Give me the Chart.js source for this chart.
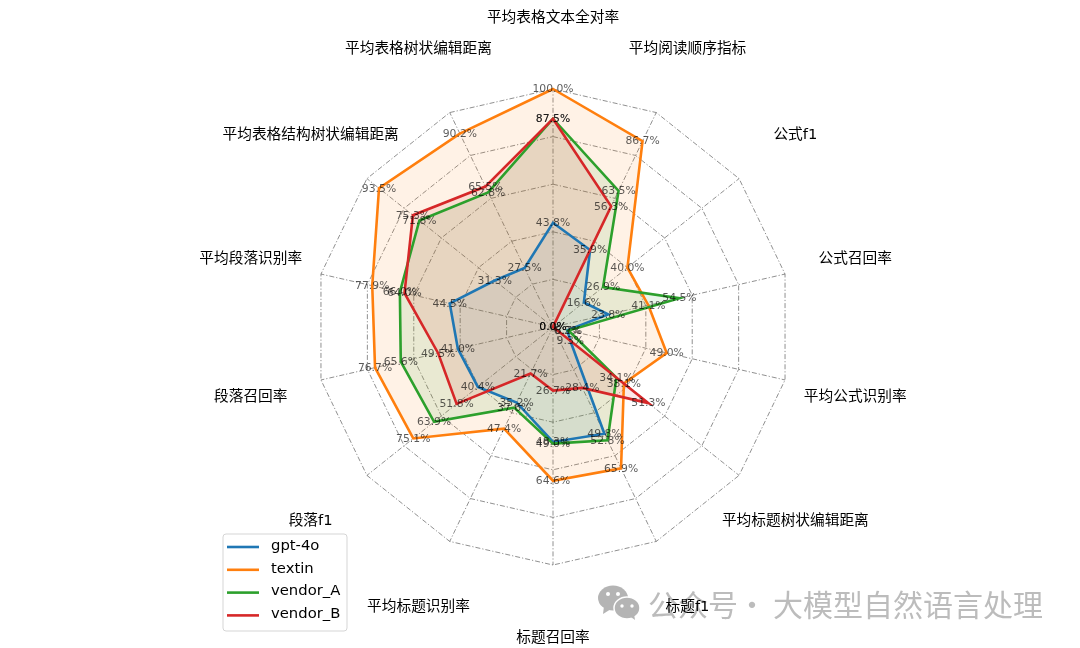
<!DOCTYPE html>
<html lang="zh">

<head>
    <meta charset="UTF-8">
    <title>雷达图</title>
    <script src="https://cdn.jsdelivr.net/npm/chart.js"></script>
    <style>
        body {
            margin: 0;
            background-color: #fff;
        }

        canvas {
            display: block;
        }
    </style>
</head>

<body>
    <canvas id="radarChart" width="1080" height="648"></canvas>

    <script>
        const categories = [
            '平均表格文本全对率', '平均阅读顺序指标', '公式f1', '公式召回率', '平均公式识别率',
            '平均标题树状编辑距离', '标题f1', '标题召回率', '平均标题识别率', '段落f1',
            '段落召回率', '平均段落识别率', '平均表格结构树状编辑距离', '平均表格树状编辑距离'
        ];

        const gpt4o = [43.8, 35.9, 16.6, 23.8, 6.2, 9.3, 49.8, 48.3, 35.2, 40.4, 41.0, 44.5, 31.3, 27.5];
        const textin = [100.0, 86.7, 40.0, 41.1, 49.0, 38.1, 65.9, 64.6, 47.4, 75.1, 76.7, 77.9, 93.5, 90.2];
        const vendorA = [87.5, 63.5, 26.9, 54.5, 6.7, 34.1, 52.8, 49.0, 37.6, 63.9, 65.6, 66.0, 71.8, 62.8];
        const vendorB = [87.5, 56.3, 0.0, 0.0, 0.0, 51.3, 28.4, 26.7, 21.7, 51.8, 49.5, 64.0, 75.3, 65.5];

        const seriesNames = ['gpt-4o', 'textin', 'vendor_A', 'vendor_B'];
        const seriesValues = [gpt4o, textin, vendorA, vendorB];
        const lineColors = ['#1f77b4', '#ff7f0e', '#2ca02c', '#d62728'];
        const fillColors = ['rgba(31,119,180,0.1)', 'rgba(255,127,14,0.1)', 'rgba(44,160,44,0.1)', 'rgba(214,39,40,0.1)'];

        const latinFont = '"DejaVu Sans", "Noto Sans CJK SC", sans-serif';
        const cjkFont = '"Noto Sans CJK SC", sans-serif';

        // 水印,画在最底层
        const watermarkPlugin = {
            id: 'watermark',
            beforeDraw(chart) {
                const ctx = chart.ctx;
                ctx.save();
                ctx.fillStyle = '#b4b4b4';
                ctx.beginPath();
                ctx.ellipse(613, 598, 15, 12.5, 0, 0, Math.PI * 2);
                ctx.fill();
                ctx.beginPath();
                ctx.moveTo(604, 606);
                ctx.lineTo(603, 614);
                ctx.lineTo(611, 609);
                ctx.fill();
                ctx.strokeStyle = '#fff';
                ctx.lineWidth = 1.5;
                ctx.beginPath();
                ctx.ellipse(627, 608, 13, 11, 0, 0, Math.PI * 2);
                ctx.fill();
                ctx.stroke();
                ctx.beginPath();
                ctx.moveTo(631, 617);
                ctx.lineTo(635, 620);
                ctx.lineTo(634, 614);
                ctx.fill();
                ctx.fillStyle = '#fff';
                [[608, 594, 2], [618, 594, 2], [622, 606, 1.7], [632, 606, 1.7]].forEach(p => {
                    ctx.beginPath();
                    ctx.arc(p[0], p[1], p[2], 0, Math.PI * 2);
                    ctx.fill();
                });

                ctx.fillStyle = '#bcbcbc';
                ctx.font = '30px ' + cjkFont;
                ctx.textBaseline = 'middle';
                ctx.textAlign = 'left';
                ctx.fillText('公众号', 648, 605);
                ctx.fillText('·', 737, 605);
                ctx.fillText('大模型自然语言处理', 773, 605);
                ctx.restore();
            }
        };

        // 类别文字和每个点的百分比
        const labelPlugin = {
            id: 'radarLabels',
            afterDatasetsDraw(chart) {
                const ctx = chart.ctx;
                const scale = chart.scales.r;
                ctx.save();
                ctx.textAlign = 'center';
                ctx.textBaseline = 'middle';

                ctx.font = '14.7px ' + latinFont;
                ctx.fillStyle = '#000';
                categories.forEach((name, i) => {
                    const pos = scale.getPointPosition(i, 310);
                    ctx.fillText(name, pos.x, pos.y + 1);
                });

                ctx.font = '10.8px ' + latinFont;
                ctx.fillStyle = 'rgba(0,0,0,0.65)';
                seriesValues.forEach((values, s) => {
                    const points = chart.getDatasetMeta(s).data;
                    values.forEach((v, i) => {
                        ctx.fillText(v.toFixed(1) + '%', points[i].x, points[i].y + 0.5);
                    });
                });
                ctx.restore();
            }
        };

        // 图例放在左下角,位置和 matplotlib 的一样
        const legendPlugin = {
            id: 'cornerLegend',
            afterDraw(chart) {
                const ctx = chart.ctx;
                ctx.save();
                ctx.beginPath();
                ctx.roundRect(223, 534, 124, 97, 3);
                ctx.fillStyle = 'rgba(255,255,255,0.8)';
                ctx.fill();
                ctx.strokeStyle = '#d5d5d5';
                ctx.lineWidth = 1;
                ctx.stroke();

                ctx.font = '14.8px ' + latinFont;
                ctx.textAlign = 'left';
                ctx.textBaseline = 'middle';
                seriesNames.forEach((name, i) => {
                    const y = 547 + i * 22.8;
                    ctx.strokeStyle = lineColors[i];
                    ctx.lineWidth = 2.6;
                    ctx.beginPath();
                    ctx.moveTo(227, y);
                    ctx.lineTo(259, y);
                    ctx.stroke();
                    ctx.fillStyle = '#000';
                    ctx.fillText(name, 271, y - 1);
                });
                ctx.restore();
            }
        };

        const chart = new Chart(document.getElementById('radarChart').getContext('2d'), {
            type: 'radar',
            data: {
                labels: categories,
                datasets: seriesValues.map((values, i) => ({
                    label: seriesNames[i],
                    data: values,
                    borderColor: lineColors[i],
                    backgroundColor: fillColors[i],
                    borderWidth: 2.6,
                    pointRadius: 0,
                    fill: true,
                    tension: 0,
                    order: seriesValues.length - i, // matplotlib 后画的在上面
                }))
            },
            options: {
                responsive: false,
                animation: false,
                layout: { padding: { left: 315, right: 289, top: 89, bottom: 83 } },
                plugins: {
                    legend: { display: false },
                    tooltip: { enabled: false },
                    filler: { drawTime: 'beforeDatasetsDraw' }, // 填充都在线条下面
                },
                scales: {
                    r: {
                        min: 0,
                        max: 100,
                        ticks: { display: false, stepSize: 20 },
                        pointLabels: { display: false },
                        grid: { color: 'rgba(90,90,90,0.75)', lineWidth: 0.9 },
                        border: { dash: [5, 2, 1.2, 2] },
                        angleLines: {
                            color: 'rgba(90,90,90,0.75)',
                            lineWidth: 0.9,
                            borderDash: [5, 2, 1.2, 2],
                        },
                    },
                },
            },
            plugins: [watermarkPlugin, labelPlugin, legendPlugin]
        });
    </script>
</body>

</html>
